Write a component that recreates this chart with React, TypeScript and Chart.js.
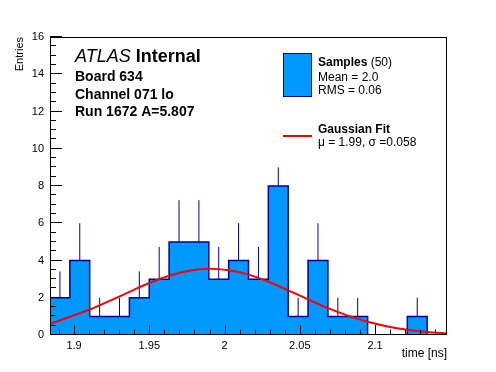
import React, { useEffect, useRef } from 'react';
import { Chart, registerables } from 'chart.js';

Chart.register(...registerables);

// ---- data ----
const X_MIN = 1.884;
const X_MAX = 2.1478;
const binCounts = [2, 4, 1, 1, 2, 3, 5, 5, 3, 4, 3, 8, 1, 4, 1, 1, 0, 0, 1, 0];
const binErrors = [1.41, 2, 1, 1, 1.41, 1.73, 2.24, 2.24, 1.73, 2, 1.73, 1.0, 1, 2, 1, 1, 0, 0, 1, 0];
// Gaussian fit curve values read at the bin edges (21 points)
const fitValues = [0.6, 0.98, 1.37, 1.83, 2.32, 2.79, 3.18, 3.45, 3.56, 3.48, 3.24, 2.86, 2.4, 1.91, 1.44, 1.04, 0.71, 0.46, 0.28, 0.16, 0.09];
const xTickValues = [1.9, 1.95, 2, 2.05, 2.1];
const yTickValues = [0, 2, 4, 6, 8, 10, 12, 14, 16];
const headerLines = ['Board 634', 'Channel 071 lo', 'Run 1672 A=5.807'];
const legendSamples = ['Mean = 2.0', 'RMS = 0.06'];
const legendFit = 'μ = 1.99, σ =0.058';

const FONT = "'Liberation Sans', Arial, Helvetica, sans-serif";
const FILL = '#0099ff';
const LINE = '#000099';

const nBins = binCounts.length;
const binW = (X_MAX - X_MIN) / nBins;
const edge = (k: number) => X_MIN + k * binW;

const histPoints = [
  ...binCounts.map((c, i) => ({ x: edge(i), y: c })),
  { x: edge(nBins), y: binCounts[nBins - 1] },
];

const errPoints: { x: number; y: number | null }[] = [];
binCounts.forEach((c, i) => {
  if (binErrors[i] > 0 && c > 0) {
    const cx = edge(i) + binW / 2;
    errPoints.push({ x: cx, y: c }, { x: cx, y: c + binErrors[i] }, { x: cx, y: null });
  }
});

const fitPoints = fitValues.map((v, k) => ({ x: edge(k), y: v }));

const rootDecor = {
  id: 'rootDecor',
  afterDatasetsDraw(chart: any) {
    const { ctx, chartArea, scales } = chart;
    const { left, top, right, bottom } = chartArea;
    const xs = scales.x;
    const ys = scales.y;
    ctx.save();
    ctx.strokeStyle = '#000';
    ctx.lineWidth = 1;
    ctx.beginPath();
    const i0 = Math.ceil(X_MIN * 100);
    const i1 = Math.floor(X_MAX * 100);
    for (let i = i0; i <= i1; i++) {
      const px = Math.round(xs.getPixelForValue(i / 100)) + 0.5;
      const len = i % 5 === 0 ? 9 : 4.5;
      ctx.moveTo(px, bottom - 1);
      ctx.lineTo(px, bottom - 1 - len);
    }
    for (let j = 0; j <= 32; j++) {
      const py = Math.round(ys.getPixelForValue(j / 2)) - 0.5;
      const len = j % 4 === 0 ? 12 : 6;
      ctx.moveTo(left, py);
      ctx.lineTo(left + len, py);
    }
    ctx.stroke();
    ctx.strokeRect(left + 0.5, top + 0.5, right - left - 1, bottom - top - 1);
    ctx.restore();
  },
  afterDraw(chart: any) {
    const { ctx } = chart;
    ctx.save();
    ctx.fillStyle = '#000';
    ctx.textBaseline = 'alphabetic';
    ctx.textAlign = 'left';
    ctx.font = `italic 18px ${FONT}`;
    ctx.fillText('ATLAS', 75, 62);
    const w = ctx.measureText('ATLAS ').width;
    ctx.font = `bold 18px ${FONT}`;
    ctx.fillText('Internal', 75 + w, 62);
    ctx.font = `bold 14px ${FONT}`;
    headerLines.forEach((t, i) => ctx.fillText(t, 75, 81 + i * 17.7));

    ctx.fillStyle = FILL;
    ctx.fillRect(283, 53, 29, 44);
    ctx.strokeStyle = LINE;
    ctx.lineWidth = 1;
    ctx.strokeRect(283.5, 53.5, 28, 43);
    ctx.fillStyle = '#000';
    ctx.font = `bold 12px ${FONT}`;
    ctx.fillText('Samples', 318, 66);
    const sw = ctx.measureText('Samples').width;
    ctx.font = `12px ${FONT}`;
    ctx.fillText(' (50)', 318 + sw, 66);
    legendSamples.forEach((t, i) => ctx.fillText(t, 318, 81 + i * 12.5));

    ctx.strokeStyle = '#ff0000';
    ctx.lineWidth = 2;
    ctx.beginPath();
    ctx.moveTo(283, 136);
    ctx.lineTo(312, 136);
    ctx.stroke();
    ctx.font = `bold 12px ${FONT}`;
    ctx.fillText('Gaussian Fit', 318, 133);
    ctx.font = `12px ${FONT}`;
    ctx.fillText(legendFit, 318, 146);
    ctx.restore();
  },
};

export default function App() {
  const ref = useRef<HTMLCanvasElement>(null);
  useEffect(() => {
    if (!ref.current) return;
    const chart = new Chart(ref.current, {
      type: 'line',
      data: {
        datasets: [
          {
            label: 'Gaussian Fit',
            data: fitPoints as any,
            borderColor: '#ff0000',
            borderWidth: 2,
            pointRadius: 0,
            fill: false,
            cubicInterpolationMode: 'monotone',
            order: 0,
          },
          {
            label: 'errors',
            data: errPoints as any,
            borderColor: LINE,
            borderWidth: 1,
            pointRadius: 0,
            fill: false,
            spanGaps: false,
            order: 1,
          },
          {
            label: 'Samples',
            data: histPoints as any,
            stepped: true,
            borderColor: LINE,
            borderWidth: 1.5,
            backgroundColor: FILL,
            pointRadius: 0,
            fill: 'origin',
            order: 2,
          },
        ],
      },
      options: {
        responsive: false,
        animation: false,
        devicePixelRatio: 1,
        layout: { padding: { top: 37, right: 49, bottom: 0, left: 0 } },
        plugins: { legend: { display: false }, tooltip: { enabled: false } },
        scales: {
          x: {
            type: 'linear',
            min: X_MIN,
            max: X_MAX,
            grid: { display: false, drawTicks: false, tickLength: 0 },
            border: { display: false },
            afterBuildTicks: (s: any) => {
              s.ticks = xTickValues.map((v) => ({ value: v }));
            },
            afterFit: (s: any) => {
              s.height = 37;
            },
            ticks: {
              color: '#000',
              font: { family: FONT, size: 11 },
              padding: 4,
              maxRotation: 0,
              autoSkip: false,
              callback: (v: any) => String(v),
            },
            title: {
              display: true,
              text: 'time [ns]',
              align: 'end',
              color: '#000',
              font: { family: FONT, size: 12 },
              padding: { top: 0, bottom: 11.5 },
            },
          },
          y: {
            type: 'linear',
            min: 0,
            max: 16,
            grid: { display: false, drawTicks: false, tickLength: 0 },
            border: { display: false },
            afterBuildTicks: (s: any) => {
              s.ticks = yTickValues.map((v) => ({ value: v }));
            },
            afterFit: (s: any) => {
              s.width = 50;
            },
            ticks: {
              color: '#000',
              font: { family: FONT, size: 11 },
              padding: 6,
              callback: (v: any) => String(v),
            },
            title: {
              display: true,
              text: 'Entries',
              align: 'end',
              color: '#000',
              font: { family: FONT, size: 11 },
              padding: { top: 13.5, bottom: 0 },
            },
          },
        },
      },
      plugins: [rootDecor],
    });
    return () => chart.destroy();
  }, []);
  return (
    <div style={{ position: 'absolute', left: 0, top: 0, width: 496, height: 372, background: '#fff' }}>
      <canvas ref={ref} width={496} height={372} />
    </div>
  );
}
